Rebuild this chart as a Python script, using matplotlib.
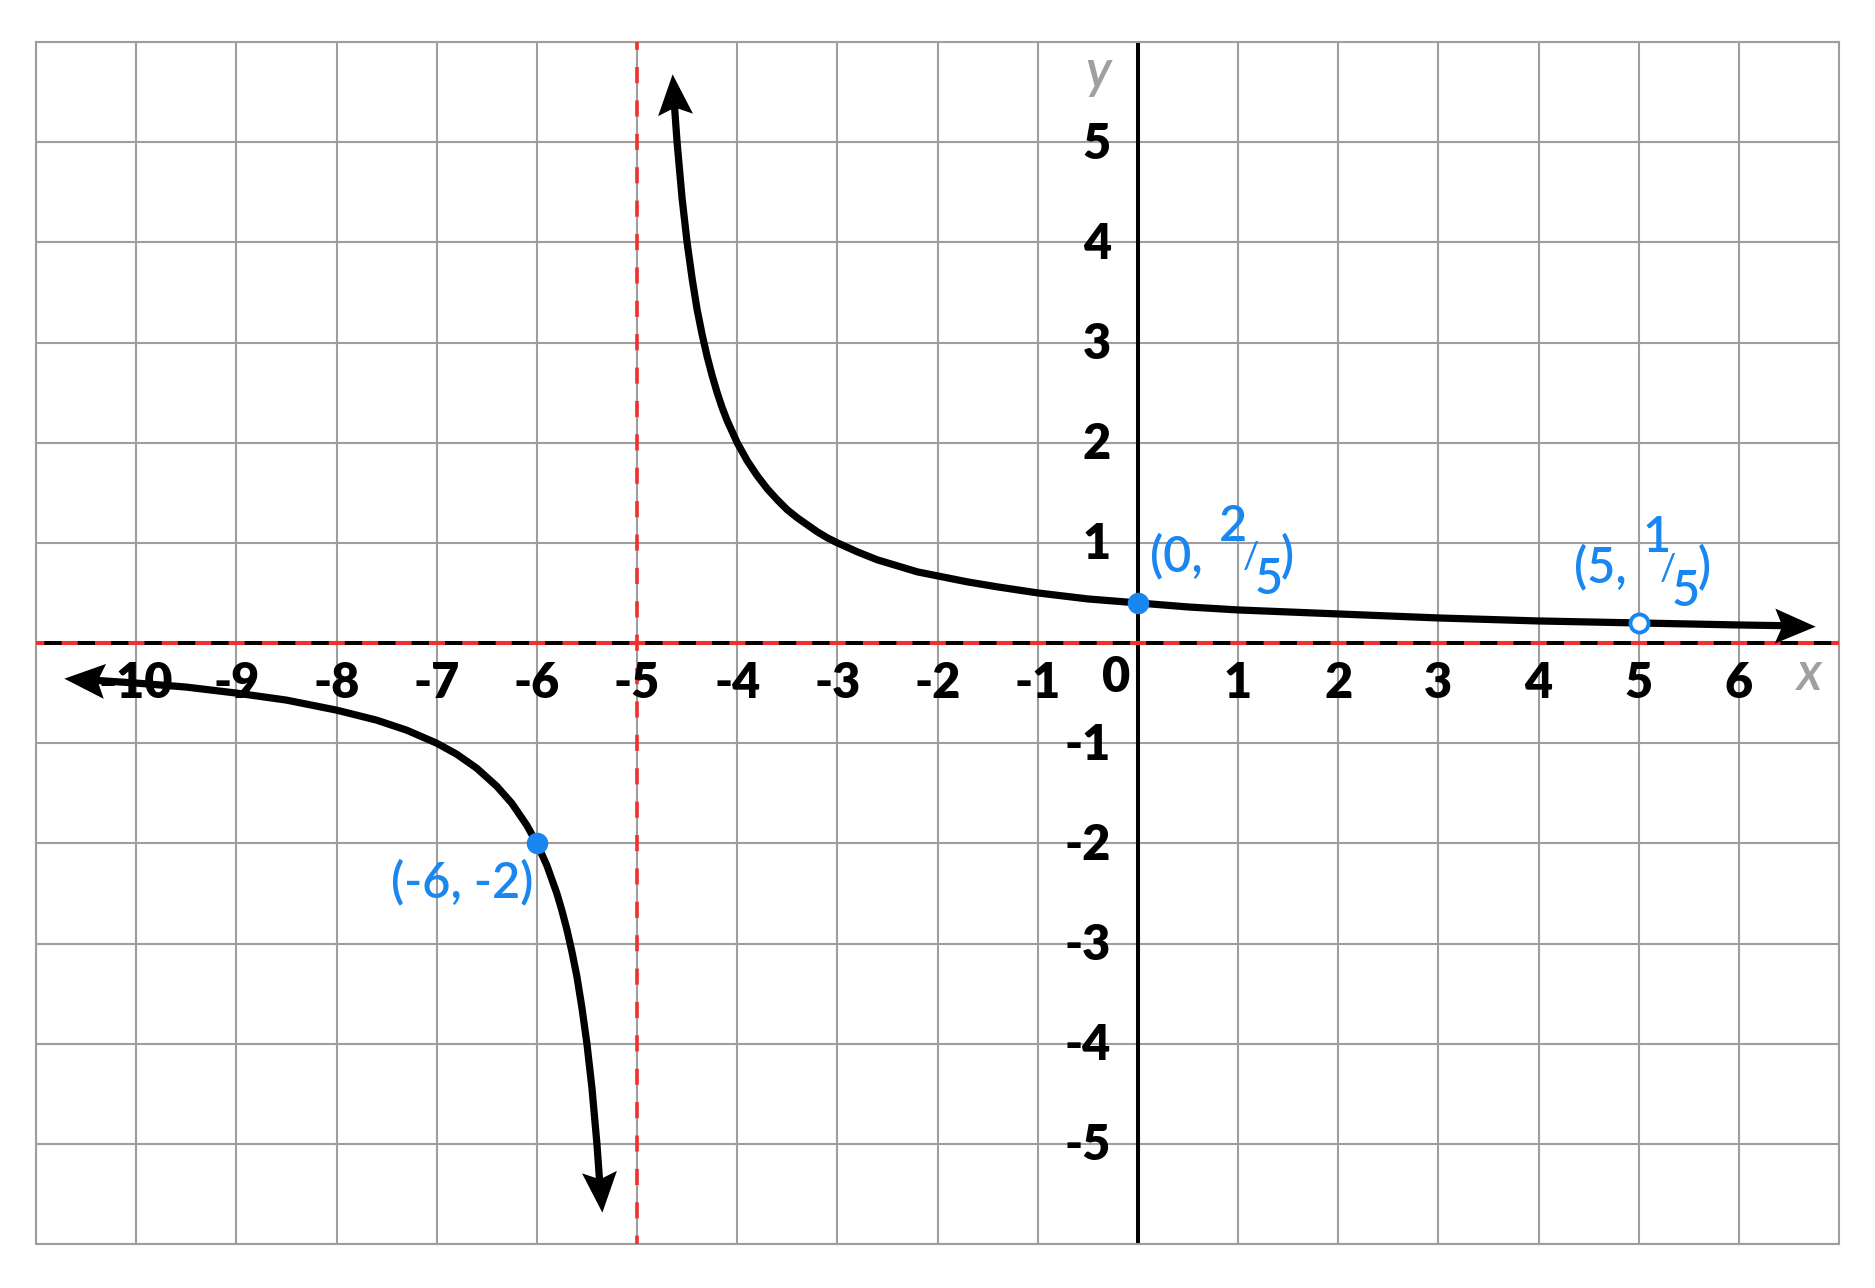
import matplotlib.pyplot as plt
from matplotlib.markers import MarkerStyle
from matplotlib.path import Path
from matplotlib.transforms import Affine2D
import numpy as np

plt.rcParams['lines.scale_dashes'] = False
plt.rcParams['font.family'] = ['Lato', 'DejaVu Sans']

# branch to the right of the asymptote x = -5
upper_x = [-4.64, -4.6, -4.55, -4.5, -4.45, -4.4, -4.35, -4.3, -4.25, -4.2, -4.15, -4.1,
           -4.05, -4.0, -3.9, -3.8, -3.7, -3.6, -3.5, -3.4, -3.3, -3.2, -3.1, -3.0,
           -2.8, -2.6, -2.4, -2.2, -2.0, -1.7, -1.4, -1.0, -0.5, 0, 0.5, 1, 1.5, 2, 3, 4, 5,
           6, 6.64]
upper_y = [5.56, 5.0, 4.44, 4.0, 3.64, 3.33, 3.08, 2.86, 2.67, 2.5, 2.35, 2.22,
           2.11, 2.0, 1.82, 1.67, 1.54, 1.43, 1.33, 1.25, 1.18, 1.11, 1.05, 1.0,
           0.91, 0.83, 0.77, 0.71, 0.67, 0.61, 0.56, 0.5, 0.44, 0.4, 0.36, 0.33, 0.31, 0.29,
           0.25, 0.22, 0.2, 0.18, 0.17]

# branch to the left of the asymptote
lower_x = [-10.6, -10.3, -10, -9.5, -9, -8.5, -8, -7.6, -7.3, -7.0, -6.8, -6.6, -6.4,
           -6.25, -6.1, -6.0, -5.9, -5.8, -5.75, -5.7, -5.65, -5.6, -5.55, -5.5, -5.45,
           -5.4, -5.36]
lower_y = [-0.36, -0.38, -0.4, -0.44, -0.5, -0.57, -0.67, -0.77, -0.87, -1.0, -1.11,
           -1.25, -1.43, -1.6, -1.82, -2.0, -2.22, -2.5, -2.67, -2.86, -3.08, -3.33, -3.64,
           -4.0, -4.44, -5.0, -5.56]

asymptote_x = -5
asymptote_y = 0

dots_x = [-6, 0]
dots_y = [-2, 0.4]
hole_x = [5]
hole_y = [0.2]

x_tick_labels = [-10, -9, -8, -7, -6, -5, -4, -3, -2, -1, 1, 2, 3, 4, 5, 6]
y_tick_labels = [5, 4, 3, 2, 1, -1, -2, -3, -4, -5]

blue = '#1a86f0'
red = '#f03030'
gray = '#9e9e9e'

fig = plt.figure(figsize=(18.75, 12.88), dpi=100)
ax = fig.add_axes([36 / 1875, 44 / 1288, 1803 / 1875, 1202 / 1288])
ax.set_xlim(-11, 7)
ax.set_ylim(-6, 6)
ax.set_xticks(np.arange(-11, 8))
ax.set_yticks(np.arange(-6, 7))
ax.tick_params(length=0, labelbottom=False, labelleft=False)
ax.grid(True, color=gray, lw=1.5)
ax.set_axisbelow(True)
for sp in ax.spines.values():
    sp.set_color(gray)
    sp.set_linewidth(1.5)

# axes
ax.axvline(0, color='black', lw=2.9, zorder=2)
ax.axhline(0, color='black', lw=2.9, zorder=2)
# asymptotes
dash = (5.6, (11.6, 12.44))
ax.axvline(asymptote_x, color=red, lw=2.6, linestyle=dash, zorder=3)
ax.axhline(asymptote_y, color=red, lw=2.9, linestyle=dash, zorder=3)

# tick labels
tick_font = dict(fontsize=35, fontweight='heavy', color='black', zorder=4)
for v in x_tick_labels:
    ax.text(v, -0.40, str(v), ha='center', va='center', **tick_font)
ax.text(-0.22, -0.34, '0', ha='center', va='center', **tick_font)
for v in y_tick_labels:
    ax.text(-0.27, v - 0.02, str(v), ha='right', va='center', **tick_font)

ax.text(-0.40, 5.70, 'y', color='#a0a0a0', fontsize=38, style='italic',
        fontweight='semibold', ha='center', va='center')
ax.text(6.71, -0.31, 'x', color='#a0a0a0', fontsize=38, style='italic',
        fontweight='semibold', ha='center', va='center')

# curve
ax.plot(upper_x, upper_y, color='black', lw=5.2, zorder=5, solid_capstyle='butt',
        solid_joinstyle='round')
ax.plot(lower_x, lower_y, color='black', lw=5.2, zorder=5, solid_capstyle='butt',
        solid_joinstyle='round')

head = Path([(0.3, 0), (-0.7, 0.43), (-0.52, 0), (-0.7, -0.43), (0.3, 0)],
            [Path.MOVETO, Path.LINETO, Path.LINETO, Path.LINETO, Path.CLOSEPOLY])


def arrow_head(xs, ys):
    ang = np.degrees(np.arctan2(ys[-1] - ys[-2], xs[-1] - xs[-2]))
    m = MarkerStyle(head, transform=Affine2D().rotate_deg(ang))
    ax.plot(xs[-1], ys[-1], marker=m, ms=41, color='black', mew=0, zorder=5)


arrow_head(upper_x[1::-1], upper_y[1::-1])
arrow_head(upper_x[-2:], upper_y[-2:])
arrow_head(lower_x[1::-1], lower_y[1::-1])
arrow_head(lower_x[-2:], lower_y[-2:])

# points
ax.plot(dots_x, dots_y, 'o', color=blue, ms=14.5, zorder=6)
ax.plot(hole_x, hole_y, 'o', mfc='white', mec=blue, mew=2.8, ms=13, zorder=6)

lab = dict(fontsize=35, color=blue, zorder=6, va='center', fontweight='semibold')
ax.text(-6.75, -2.39, '(-6, -2)', ha='center', **lab)
ax.text(0.12, 0.86, '(0,', ha='left', **lab)
ax.text(0.95, 1.16, '2', ha='center', **lab)
ax.text(1.13, 0.85, '/', ha='center', fontsize=26, color=blue, va='center')
ax.text(1.31, 0.63, '5', ha='center', **lab)
ax.text(1.49, 0.86, ')', ha='center', **lab)
ax.text(4.35, 0.75, '(5,', ha='left', **lab)
ax.text(5.18, 1.05, '1', ha='center', **lab)
ax.text(5.29, 0.73, '/', ha='center', fontsize=26, color=blue, va='center')
ax.text(5.47, 0.51, '5', ha='center', **lab)
ax.text(5.65, 0.75, ')', ha='center', **lab)

fig.savefig('out.png', dpi=100)
